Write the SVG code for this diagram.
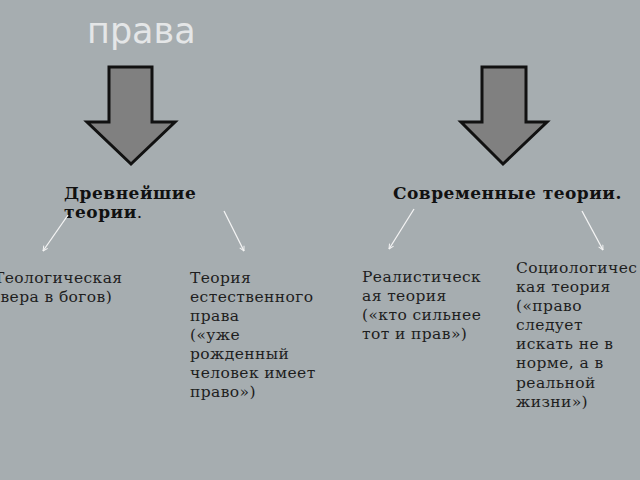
<svg xmlns="http://www.w3.org/2000/svg" width="640" height="480" viewBox="0 0 640 480">
<defs>
<style>
.title{font-family:"DejaVu Sans","Open Sans",sans-serif;font-size:35px;fill:#e4e6e7}
.big{fill:#808080;stroke:#111;stroke-width:3;stroke-linejoin:miter}
.head{font-family:"DejaVu Serif","Liberation Serif",serif;font-size:17px;letter-spacing:0.5px;font-weight:bold;fill:#111}
.body{font-family:"DejaVu Serif","Liberation Serif",serif;font-size:15.5px;letter-spacing:0.4px;fill:#1e1e1e}
.con{stroke:#f4f4f4;stroke-width:1.3;fill:none;marker-end:url(#ah)}
</style>
<marker id="ah" viewBox="0 0 10 10" refX="9" refY="5" markerWidth="6" markerHeight="6" orient="auto" markerUnits="userSpaceOnUse">
<path d="M1,1 L9,5 L1,9" fill="none" stroke="#f4f4f4" stroke-width="1.6"/>
</marker>
</defs>
<rect width="640" height="480" fill="#a6adb0"/>
<text class="title" x="87" y="43">права</text>

<g id="arrow-left">
<polygon class="big" points="109,67 152,67 152,122 175,122 131,164 87,122 109,122"/>
</g>
<g id="arrow-right">
<polygon class="big" points="482,67 526,67 526,122 547,122 503,164 461,122 482,122"/>
</g>

<g id="ancient">
<text class="head" x="64" y="199">Древнейшие</text>
<text class="head" x="64" y="218">теории<tspan font-weight="normal">.</tspan></text>
</g>
<g id="modern">
<text class="head" x="393" y="199">Современные теории.</text>
</g>

<g id="connectors">
<line class="con" x1="68" y1="215" x2="43" y2="251"/>
<line class="con" x1="224" y1="211" x2="244" y2="251"/>
<line class="con" x1="414" y1="209" x2="389" y2="249"/>
<line class="con" x1="582" y1="211" x2="603" y2="250"/>
</g>

<g id="theological">
<text class="body"><tspan x="-6" y="283">Теологическая</tspan><tspan x="-6" y="302">(вера в богов)</tspan></text>
</g>
<g id="natural">
<text class="body"><tspan x="190" y="283">Теория</tspan><tspan x="190" y="302">естественного</tspan><tspan x="190" y="321">права</tspan><tspan x="190" y="340">(«уже</tspan><tspan x="190" y="359">рожденный</tspan><tspan x="190" y="378">человек имеет</tspan><tspan x="190" y="397">право»)</tspan></text>
</g>
<g id="realistic">
<text class="body"><tspan x="362" y="282">Реалистическ</tspan><tspan x="362" y="301">ая теория</tspan><tspan x="362" y="320">(«кто сильнее</tspan><tspan x="362" y="339">тот и прав»)</tspan></text>
</g>
<g id="sociological">
<text class="body"><tspan x="516" y="273">Социологичес</tspan><tspan x="516" y="292">кая теория</tspan><tspan x="516" y="311">(«право</tspan><tspan x="516" y="330">следует</tspan><tspan x="516" y="349">искать не в</tspan><tspan x="516" y="368">норме, а в</tspan><tspan x="516" y="388">реальной</tspan><tspan x="516" y="407">жизни»)</tspan></text>
</g>
</svg>
